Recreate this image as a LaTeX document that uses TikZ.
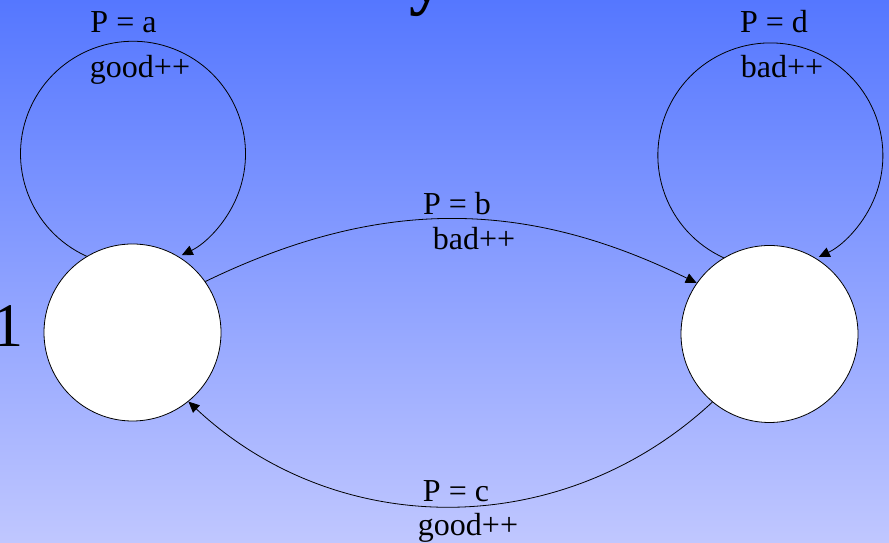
\documentclass[tikz,border=0pt]{standalone}
\usepackage{fontspec}
\setmainfont{Liberation Serif}
\usepackage{tikz}
\usetikzlibrary{arrows.meta}

\begin{document}
\begin{tikzpicture}[x=1bp, y=1bp, line width=0.8bp,
  every node/.style={font=\fontsize{32bp}{38bp}\selectfont, inner sep=0pt},
  state/.style={circle, draw, fill=white, minimum size=177bp},
  lbl/.style={anchor=base},
  big/.style={font=\fontsize{62bp}{70bp}\selectfont, anchor=base west},
  arr/.style={-{Triangle[length=11bp, width=10bp]}}]
% Background
\clip (0,0) rectangle (889,543);
\shade[top color={rgb,255:red,85;green,119;blue,255}, bottom color={rgb,255:red,192;green,199;blue,255}] (0,0) rectangle (889,543);
% Cut-off slide text
\node[big, font=\fontsize{70bp}{74bp}\selectfont\bfseries] (title) at (409,541.5) {y};
\node[big] (num) at (-7.7,196.3) {1};
% States
\node[state] (good) at (132.5,210.5) {};
\node[state] (bad) at (769.5,209) {};
% Self loops
\draw[arr] (good.121) arc[start angle=245.7, end angle=-64.3, radius=112.5bp];
\draw[arr] (bad.121) arc[start angle=245.5, end angle=-64.5, radius=112.5bp];
% Transitions
\draw[arr] (good.35) to[bend left=26] (bad.145);
\draw[arr] (bad.230) to[bend left=43] (good.309);
% Labels
\node[lbl] (pa) at (123.5,510) {P = a};
\node[lbl] (ga) at (140,465) {good++};
\node[lbl] (pd) at (774,510) {P = d};
\node[lbl] (bd) at (782,465) {bad++};
\node[lbl] (pb) at (457,328) {P = b};
\node[lbl] (bb) at (474,293.7) {bad++};
\node[lbl] (pc) at (456,41.3) {P = c};
\node[lbl] (gc) at (468,7) {good++};
\end{tikzpicture}
\end{document}
